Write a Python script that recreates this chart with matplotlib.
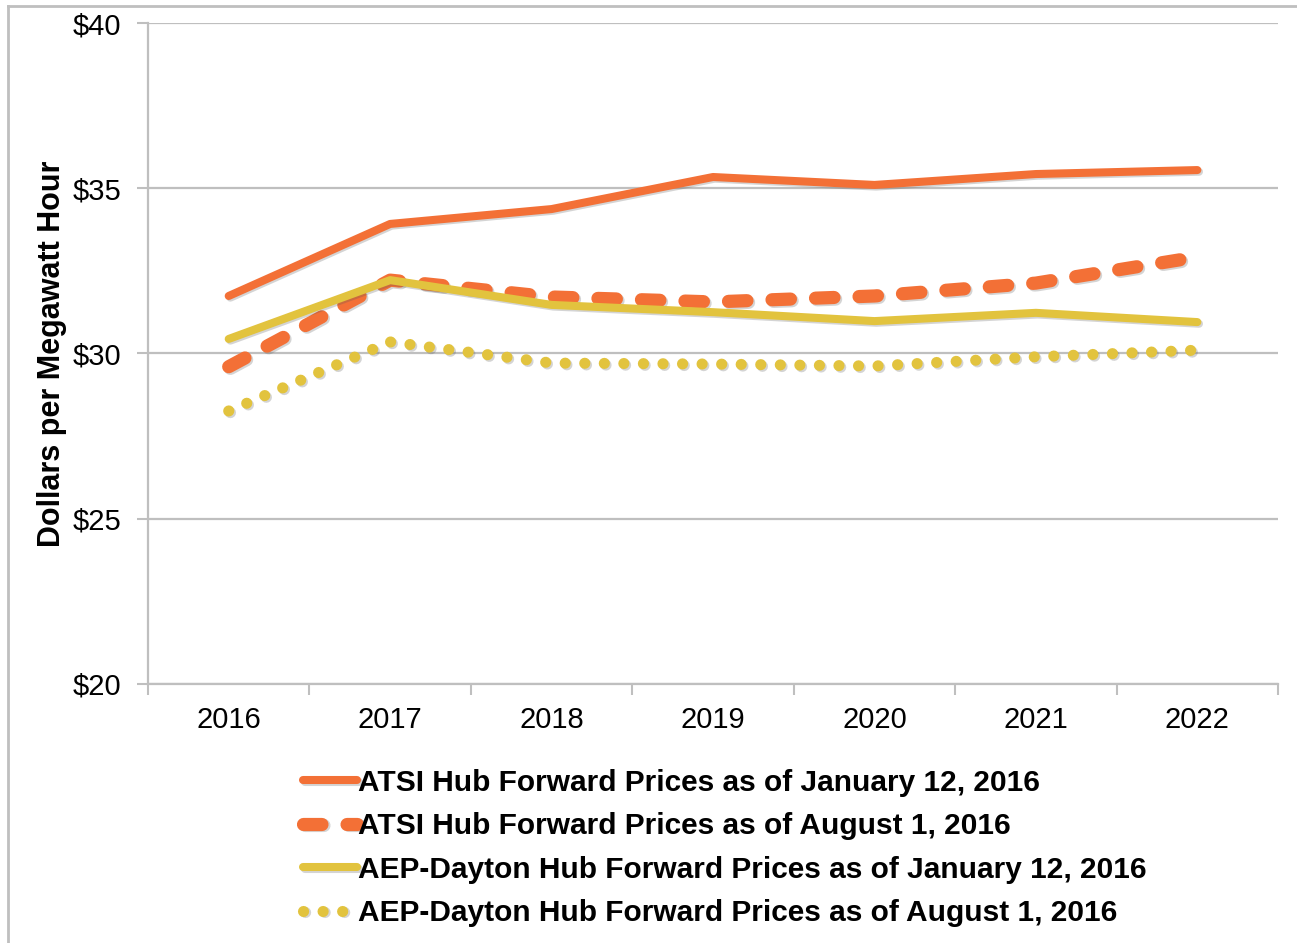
import matplotlib
matplotlib.use('Agg')
import matplotlib.pyplot as plt
import matplotlib.patheffects as pe
from matplotlib.lines import Line2D

plt.rcParams['font.family'] = ['Liberation Sans', 'DejaVu Sans']

years = ['2016', '2017', '2018', '2019', '2020', '2021', '2022']
atsi_jan = [31.74, 33.92, 34.37, 35.34, 35.10, 35.43, 35.55]
atsi_aug = [29.60, 32.22, 31.71, 31.56, 31.74, 32.13, 32.92]
aep_jan = [30.44, 32.22, 31.47, 31.25, 30.98, 31.23, 30.95]
aep_aug = [28.26, 30.35, 29.71, 29.68, 29.62, 29.90, 30.10]

labels = ['ATSI Hub Forward Prices as of January 12, 2016',
          'ATSI Hub Forward Prices as of August 1, 2016',
          'AEP-Dayton Hub Forward Prices as of January 12, 2016',
          'AEP-Dayton Hub Forward Prices as of August 1, 2016']

orange = '#F37036'
yellow = '#E2C33E'
grid_c = '#BFBFBF'

fig = plt.figure(figsize=(12.97, 9.43), dpi=100)
ax = fig.add_axes([0.1141, 0.2747, 0.8713, 0.7009])

shadow = [pe.SimpleLineShadow(offset=(1.2, -1.2), alpha=0.25, shadow_color='#555555'), pe.Normal()]
x = list(range(len(years)))

ax.plot(x, atsi_jan, color=orange, lw=5.8, solid_capstyle='round',
        path_effects=shadow, label=labels[0])
ax.plot(x, atsi_aug, color=orange, lw=9.5, linestyle=(0, (1.4, 1.9)),
        dash_capstyle='round', path_effects=shadow, label=labels[1])
ax.plot(x, aep_jan, color=yellow, lw=5.8, solid_capstyle='round',
        path_effects=shadow, label=labels[2])
ax.plot(x, aep_aug, color=yellow, lw=8, linestyle=(0, (0.01, 1.75)),
        dash_capstyle='round', path_effects=shadow, label=labels[3])

ax.set_xlim(-0.5, 6.5)
ax.set_ylim(20, 40)
ax.set_yticks([20, 25, 30, 35, 40])
ax.set_yticklabels(['$20', '$25', '$30', '$35', '$40'], fontsize=21)
ax.set_xticks([i - 0.5 for i in range(8)])
ax.set_xticklabels([])
ax.set_xticks(x, minor=True)
ax.set_xticklabels(years, minor=True, fontsize=21)
ax.tick_params(axis='x', which='major', length=8, width=1.5, color=grid_c, direction='out')
ax.tick_params(axis='x', which='minor', length=0, pad=16)
ax.tick_params(axis='y', length=8, width=1.5, color=grid_c, pad=11)

ax.grid(axis='y', color=grid_c, lw=1.6)
ax.set_axisbelow(True)
for s in ['top', 'right']:
    ax.spines[s].set_visible(False)
for s in ['left', 'bottom']:
    ax.spines[s].set_color(grid_c)
    ax.spines[s].set_linewidth(1.6)

ax.set_ylabel('Dollars per Megawatt Hour', fontsize=22, fontweight='bold', labelpad=4)

leg = fig.legend(loc='upper left', bbox_to_anchor=(0.213, 0.2135), frameon=False,
                 handlelength=1.8, handletextpad=0.05, labelspacing=0.52,
                 prop={'weight': 'bold', 'size': 21.5})

# outer frame (left and top edges)
fig.add_artist(Line2D([0.0062, 0.0062], [0, 0.9936], color=grid_c, lw=2, transform=fig.transFigure))
fig.add_artist(Line2D([0.0062, 1], [0.9936, 0.9936], color=grid_c, lw=2, transform=fig.transFigure))

fig.savefig('out.png', dpi=100)
